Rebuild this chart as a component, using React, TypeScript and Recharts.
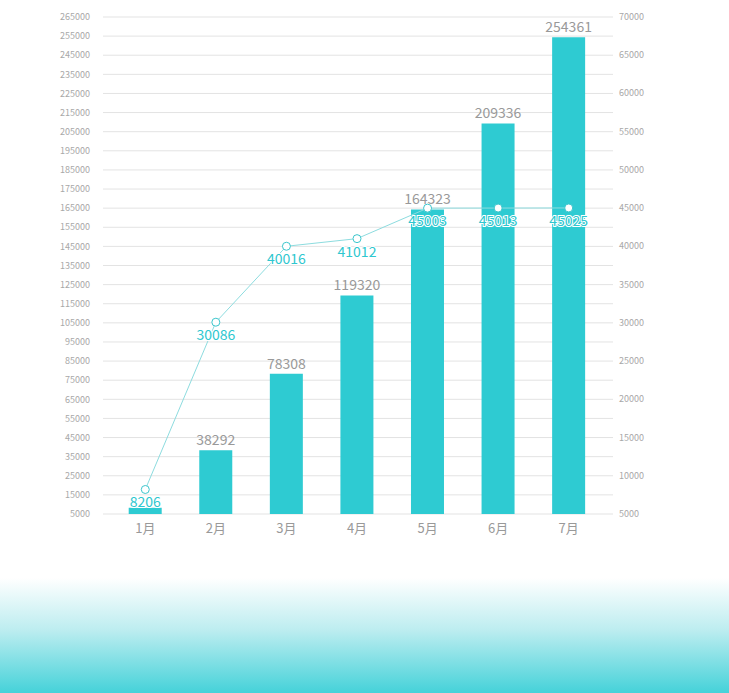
import React from 'react';
import { ComposedChart, Bar, Line, XAxis, YAxis, CartesianGrid, LabelList } from 'recharts';

const months = ['1月', '2月', '3月', '4月', '5月', '6月', '7月'];
const barValues = [8206, 38292, 78308, 119320, 164323, 209336, 254361];
const lineValues = [8206, 30086, 40016, 41012, 45003, 45013, 45025];

const leftTicks = Array.from({ length: 27 }, (_, i) => 5000 + i * 10000);
const rightTicks = Array.from({ length: 27 }, (_, i) => 5000 + i * 2500);

const data = months.map((m, i) => ({ month: m, total: barValues[i], count: lineValues[i] }));

const FONT = '"Noto Sans CJK SC", "Noto Sans", sans-serif';
const TEAL = '#2ecbd2';

const RightTick = ({ x, y, payload }: any) => {
  if (payload.value % 5000 !== 0) return null;
  return (
    <text x={x - 2} y={y} dy={3} fontSize={9} fill="#a8a8a8" fontFamily={FONT} textAnchor="start">
      {payload.value}
    </text>
  );
};

const LineLabel = ({ x, y, value }: any) => (
  <text
    x={x}
    y={y + 18}
    textAnchor="middle"
    fontSize={14}
    fontFamily={FONT}
    fill="#2ec7cf"
    stroke="#ffffff"
    strokeWidth={2}
    paintOrder="stroke"
  >
    {value}
  </text>
);

// the first bar's label sits under the line label in the original, so it is not shown
const BarLabel = ({ x, y, width, value, index }: any) =>
  index === 0 ? null : (
    <text x={x + width / 2} y={y - 5} textAnchor="middle" fontSize={14} fontFamily={FONT} fill="#999999">
      {value}
    </text>
  );

export default function App() {
  return (
    <div style={{ position: 'absolute', left: 0, top: 0, width: 729, height: 693, background: '#fff', overflow: 'hidden' }}>
      <div
        style={{
          position: 'absolute',
          left: 0,
          top: 578,
          width: 729,
          height: 115,
          background: 'linear-gradient(to bottom, #ffffff 0%, #bdedf0 45%, #45d2d9 100%)',
        }}
      />
      <div style={{ position: 'absolute', left: 0, top: 0 }}>
        <ComposedChart
          width={729}
          height={545}
          data={data}
          margin={{ top: 17, right: 0, left: 0, bottom: 0 }}
          barCategoryGap="26.5%"
        >
          <CartesianGrid yAxisId="left" vertical={false} stroke="#e3e3e3" strokeWidth={1} />
          <XAxis
            dataKey="month"
            axisLine={false}
            tickLine={false}
            tick={{ fontSize: 13, fill: '#999', fontFamily: FONT }}
            height={31}
            tickMargin={4}
            padding={{ left: 7, right: 9 }}
          />
          <YAxis
            yAxisId="left"
            domain={[5000, 265000]}
            ticks={leftTicks}
            interval={0}
            axisLine={false}
            tickLine={false}
            width={103}
            tickMargin={7}
            tick={{ fontSize: 9, fill: '#a8a8a8', fontFamily: FONT }}
          />
          <YAxis
            yAxisId="right"
            orientation="right"
            domain={[5000, 70000]}
            ticks={rightTicks}
            interval={0}
            axisLine={false}
            tickLine={false}
            width={116}
            tick={<RightTick />}
          />
          <Bar yAxisId="left" dataKey="total" fill={TEAL} isAnimationActive={false}>
            <LabelList dataKey="total" content={<BarLabel />} />
          </Bar>
          <Line
            yAxisId="right"
            dataKey="count"
            stroke="#8ddcdf"
            strokeWidth={1}
            dot={{ r: 4, stroke: '#3cc6cd', strokeWidth: 1, fill: '#ffffff' }}
            isAnimationActive={false}
          >
            <LabelList dataKey="count" content={<LineLabel />} />
          </Line>
        </ComposedChart>
      </div>
    </div>
  );
}
